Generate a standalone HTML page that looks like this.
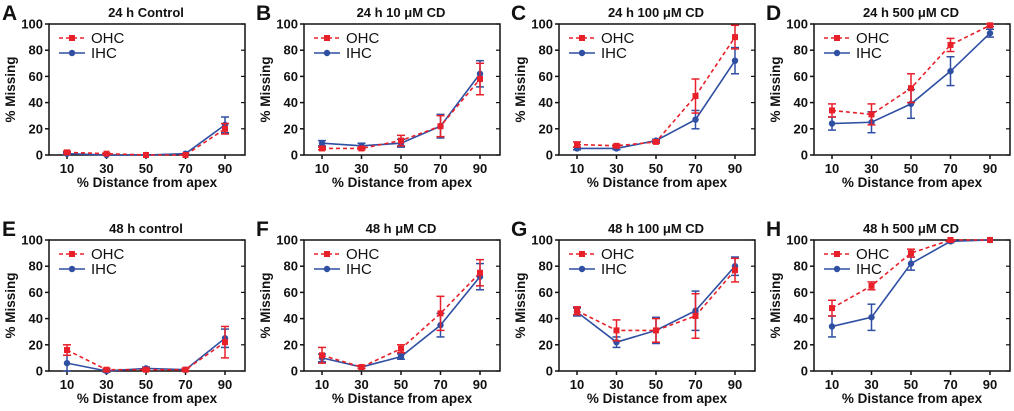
<!DOCTYPE html>
<html><head><meta charset="utf-8"><style>
body{margin:0;background:#fff;width:1014px;height:406px;overflow:hidden}
svg text{font-family:"Liberation Sans",Arial,sans-serif;font-weight:bold;fill:#111}
.t{font-size:13px;text-anchor:middle}
.tk{font-size:13px}
.L{font-size:21px}
</style></head><body>
<svg id="s" width="1014" height="406" xmlns="http://www.w3.org/2000/svg">
<g id="txt">
<text class="L" x="2" y="20">A</text><text class="L" x="256" y="20">B</text><text class="L" x="511" y="20">C</text><text class="L" x="766" y="20">D</text>
<text class="L" x="2" y="236">E</text><text class="L" x="256" y="236">F</text><text class="L" x="511" y="236">G</text><text class="L" x="766" y="236">H</text>
<text class="t" x="146" y="17">24 h Control</text>
<text class="t" x="401" y="17">24 h 10 μM CD</text>
<text class="t" x="656" y="17">24 h 100 μM CD</text>
<text class="t" x="911" y="17">24 h 500 μM CD</text>
<text class="t" x="146" y="233">48 h control</text>
<text class="t" x="401" y="233">48 h  μM CD</text>
<text class="t" x="656" y="233">48 h 100 μM CD</text>
<text class="t" x="911" y="233">48 h 500 μM CD</text>
</g>
</svg>
<script>
var s=document.getElementById('s'),NS='http://www.w3.org/2000/svg';
function el(t,a){var e=document.createElementNS(NS,t);for(var k in a)e.setAttribute(k,a[k]);s.appendChild(e);return e}
var D=[
[[2,1,0,0,20],[1,.5,0,0,4],[1,0,0,1,23],[1,0,0,0,6]],
[[5,5,11,22,58],[1,1,4,8,12],[9,7,9,22,62],[2,2,3,9,10]],
[[8,7,10,45,90],[2,1,1,13,9],[5,5,11,27,72],[1,1,1,7,10]],
[[34,31,51,84,99],[5,8,11,5,1],[24,25,39,64,93],[5,8,11,11,3]],
[[16,1,1,1,22],[4,1,1,1,12],[6,0,2,1,25],[6,1,1,1,7]],
[[12,3,17,44,75],[6,1,3,13,10],[10,3,11,35,72],[3,1,2,9,10]],
[[46,31,31,42,77],[3,8,9,17,9],[45,22,31,46,80],[3,4,10,15,7]],
[[48,65,90,100,100],[6,3,3,1,0],[34,41,82,99,100],[8,10,5,1,0]]];
var R='#e8202a',B='#2f4fa3';
D.forEach(function(d,i){
 var L=49+(i%4)*255,T=i<4?24:240,W=196,H=131,Bt=T+H;
 function X(j){return L+18+j*39.5} function Y(v){return Bt-v*H/100}
 el('rect',{x:L,y:T,width:W,height:H,fill:'none',stroke:'#111','stroke-width':1.5});
 for(var v=0;v<=100;v+=20){var y=Y(v);el('line',{x1:L-4,x2:L,y1:y,y2:y,stroke:'#111','stroke-width':1.5});el('line',{x1:L+W-4,x2:L+W,y1:y,y2:y,stroke:'#111','stroke-width':1.2});
  var t=el('text',{x:L-6,y:y+4.5,'text-anchor':'end','class':'tk'});t.textContent=v;}
 for(var j=0;j<5;j++){el('line',{x1:X(j),x2:X(j),y1:Bt,y2:Bt+4,stroke:'#111','stroke-width':1.5});var t=el('text',{x:X(j),y:Bt+18,'text-anchor':'middle','class':'tk'});t.textContent=10+20*j;}
 var t=el('text',{x:L+W/2,y:Bt+32,'class':'t','style':'font-size:13.5px'});t.textContent='% Distance from apex';
 t=el('text',{x:0,y:0,'class':'t','style':'font-size:13.5px',transform:'translate('+(L-34)+','+(T+H/2)+') rotate(-90)'});t.textContent='% Missing';
 [[d[2],d[3],B,null,1],[d[0],d[1],R,'4,3',0]].forEach(function(q){
  var p=q[0].map(function(v,j){return X(j)+','+Y(v)}).join(' ');
  el('polyline',{points:p,fill:'none',stroke:q[2],'stroke-width':1.6,'stroke-dasharray':q[3]||'none'});
  q[0].forEach(function(v,j){var e=q[1][j],x=X(j);if(e>0){el('line',{x1:x,x2:x,y1:Y(v-e),y2:Y(Math.min(v+e,100)),stroke:q[2],'stroke-width':1.5});
   [v-e,Math.min(v+e,100)].forEach(function(w){el('line',{x1:x-4,x2:x+4,y1:Y(w),y2:Y(w),stroke:q[2],'stroke-width':1.5})});}
   if(q[4])el('circle',{cx:x,cy:Y(v),r:3.2,fill:q[2]});else el('rect',{x:x-3,y:Y(v)-3,width:6,height:6,fill:q[2]});});
 });
 var lx=L+10;
 el('line',{x1:lx,x2:lx+26,y1:T+14,y2:T+14,stroke:R,'stroke-width':1.6,'stroke-dasharray':'4,3'});el('rect',{x:lx+10,y:T+11,width:6,height:6,fill:R});
 el('line',{x1:lx,x2:lx+26,y1:T+29,y2:T+29,stroke:B,'stroke-width':1.6});el('circle',{cx:lx+13,cy:T+29,r:3.2,fill:B});
 t=el('text',{x:lx+32,y:T+19,'style':'font-weight:normal;font-size:15px'});t.textContent='OHC';
 t=el('text',{x:lx+32,y:T+34,'style':'font-weight:normal;font-size:15px'});t.textContent='IHC';
});
</script>
</body></html>
